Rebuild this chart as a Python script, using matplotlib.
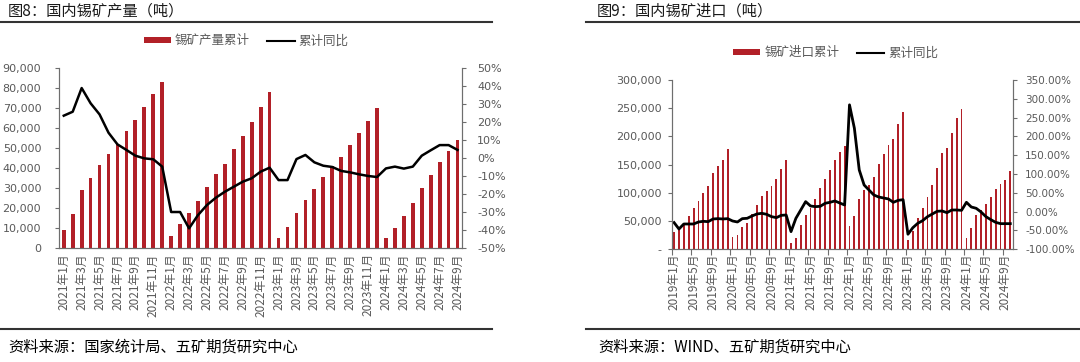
import matplotlib
matplotlib.use('Agg')
import matplotlib.pyplot as plt
from matplotlib.patches import Patch
from matplotlib.lines import Line2D
from matplotlib.ticker import FixedLocator, FuncFormatter

plt.rcParams['font.family'] = ['Noto Sans CJK SC', 'DejaVu Sans']

RED = '#b22028'
GREY = '#595959'
AXC = '#6e6e6e'

# 图8: 国内锡矿产量, 2021-01 .. 2024-09
prod_months = [f'{y}年{m}月' for y in (2021, 2022, 2023, 2024) for m in range(1, 13)][:45]
prod_cum = [8800, 16900, 28800, 35000, 41500, 47200, 51800, 58400, 63900, 70400, 76900, 82900,
            5900, 11700, 17400, 23600, 30300, 37000, 42100, 49300, 56000, 63200, 70700, 78300,
            5000, 10400, 17400, 24100, 29300, 35500, 40800, 45500, 51500, 57400, 63500, 70200,
            5000, 9700, 15900, 22600, 29800, 36500, 43100, 48700, 54000]
prod_yoy = [23.6, 25.8, 39.0, 30.5, 24.3, 14.1, 7.6, 4.5, 1.3, -0.2, -0.7, -4.8,
            -30.1, -30.1, -39.2, -31.8, -26.2, -22.1, -18.8, -16.0, -13.2, -11.3, -7.6, -5.4,
            -12.3, -12.3, -0.6, 1.7, -2.4, -4.3, -5.0, -7.2, -8.0, -9.1, -10.0, -10.6,
            -5.8, -4.8, -5.9, -4.8, 1.3, 4.3, 7.2, 7.2, 4.5]

# 图9: 国内锡矿进口, 2019-01 .. 2024-10
imp_months = [f'{y}年{m}月' for y in range(2019, 2025) for m in range(1, 13)][:70]
imp_cum = [31300, 37000, 47000, 59000, 74000, 86000, 100000, 113000, 135000, 148000, 158000, 178000,
           21800, 24800, 39000, 47000, 62600, 79000, 94400, 103000, 112000, 124600, 141700, 157600,
           10600, 20700, 42500, 60800, 72600, 89000, 108000, 124600, 140000, 158000, 171800, 183000,
           41000, 59000, 89000, 104500, 114000, 128000, 151000, 168000, 185000, 195400, 222000, 244000,
           17000, 32500, 55000, 73800, 92000, 114000, 144600, 171000, 180000, 205400, 232000, 248500,
           20000, 37000, 60800, 69000, 80000, 92500, 107500, 115700, 122500, 138500]
imp_yoy = [-29.0, -46.0, -32.7, -32.7, -32.7, -27.4, -25.6, -26.5, -19.4, -18.5, -19.4, -18.5,
           -24.7, -27.4, -18.5, -17.6, -11.4, -6.1, -4.3, -7.0, -13.2, -15.8, -9.7, -8.8,
           -53.0, -17.6, 4.5, 26.7, 15.2, 13.4, 14.3, 22.3, 24.9, 28.5, 23.1, 17.8,
           284.0, 222.0, 111.0, 71.0, 57.6, 44.4, 39.0, 36.4, 33.8, 24.9, 30.2, 31.9,
           -60.0, -42.6, -31.0, -23.9, -13.4, -6.1, 1.0, 1.9, -2.6, 4.5, 4.5, 3.6,
           24.9, 12.5, 9.0, -0.8, -13.2, -21.2, -28.3, -31.8, -31.8, -31.8]

fig = plt.figure(figsize=(10.8, 3.62), dpi=100)


def style_axes(ax, axr, lpad, rpad):
    for s in ('top',):
        ax.spines[s].set_visible(False)
        axr.spines[s].set_visible(False)
    for s in ('left', 'bottom', 'right'):
        ax.spines[s].set_color(AXC)
        axr.spines[s].set_color(AXC)
    ax.tick_params(axis='y', colors=AXC, labelcolor=GREY, length=3, width=0.8, pad=lpad)
    axr.tick_params(axis='y', colors=AXC, labelcolor=GREY, length=3, width=0.8, pad=rpad)


# ---- left chart ----
ax1 = fig.add_axes([0.0549, 0.3157, 0.3729, 0.4956])
ax1r = ax1.twinx()
x1 = list(range(len(prod_cum)))
ax1.bar(x1, prod_cum, width=0.42, color=RED)
ax1r.plot(x1, prod_yoy, color='black', lw=1.8)
ax1.set_xlim(-0.5, len(x1) - 0.5)
ax1.set_ylim(0, 90000)
ax1r.set_ylim(-50, 50)
ax1.set_yticks(range(0, 90001, 10000))
ax1.yaxis.set_major_formatter(FuncFormatter(lambda v, p: f'{int(v):,}'))
ax1r.set_yticks(range(-50, 51, 10))
ax1r.yaxis.set_major_formatter(FuncFormatter(lambda v, p: f'{int(v)}%'))
style_axes(ax1, ax1r, 10, 8)
for lab in ax1.get_yticklabels() + ax1r.get_yticklabels():
    lab.set_fontfamily('DejaVu Sans')
    lab.set_fontsize(8)
ax1.set_xticks(x1[::2])
ax1.set_xticklabels(prod_months[::2], rotation=90, fontsize=8.5, color=GREY)
ax1.tick_params(axis='x', length=0, pad=4)

# ---- right chart ----
ax2 = fig.add_axes([0.6219, 0.3113, 0.3158, 0.4677])
ax2r = ax2.twinx()
x2 = list(range(len(imp_cum)))
ax2.bar(x2, imp_cum, width=0.38, color=RED)
ax2r.plot(x2, imp_yoy, color='black', lw=2.0)
ax2.set_xlim(-0.5, len(x2) - 0.5)
ax2.set_ylim(0, 300000)
ax2r.set_ylim(-100, 350)
ax2.set_yticks(range(0, 300001, 50000))
ax2.yaxis.set_major_formatter(FuncFormatter(lambda v, p: '-' if v == 0 else f'{int(v):,}'))
ax2r.set_yticks(range(-100, 351, 50))
ax2r.yaxis.set_major_formatter(FuncFormatter(lambda v, p: f'{v:.2f}%'))
style_axes(ax2, ax2r, 4, 6)
for lab in ax2.get_yticklabels():
    lab.set_fontfamily('DejaVu Sans')
    lab.set_fontsize(8)
for lab in ax2r.get_yticklabels():
    lab.set_fontfamily('DejaVu Sans')
    lab.set_fontsize(7.5)
ax2.xaxis.set_major_locator(FixedLocator([i - 0.5 for i in x2[::4]]))
ax2.xaxis.set_major_formatter(FuncFormatter(lambda v, p: ''))
ax2.xaxis.set_minor_locator(FixedLocator(x2[::4]))
ax2.set_xticklabels(imp_months[::4], minor=True, rotation=90, fontsize=8.5, color=GREY)
ax2.tick_params(axis='x', which='major', length=4, color=AXC)
ax2.tick_params(axis='x', which='minor', length=0, pad=3)

# ---- titles, separators, legends, sources ----
fig.text(0.0074, 0.9696, '图8：国内锡矿产量（吨）', fontsize=11, va='center', ha='left', color='#1a1a1a')
fig.text(0.5528, 0.9696, '图9：国内锡矿进口（吨）', fontsize=11, va='center', ha='left', color='#1a1a1a')
for x0, x1_ in ((0.0, 0.4556), (0.5426, 1.0)):
    fig.add_artist(Line2D([x0, x1_], [0.9384, 0.9384], color='#333333', lw=1.5))
    fig.add_artist(Line2D([x0, x1_], [0.0898, 0.0898], color='#333333', lw=1.5))
fig.text(0.0074, 0.0414, '资料来源：国家统计局、五矿期货研究中心', fontsize=11, va='center', ha='left')
fig.text(0.5537, 0.0414, '资料来源：WIND、五矿期货研究中心', fontsize=11, va='center', ha='left')

leg_kw = dict(loc='center', ncol=2, frameon=False, fontsize=9, handlelength=2.2,
              handleheight=0.4, columnspacing=1.4, handletextpad=0.3, labelcolor=GREY)
fig.legend([Patch(facecolor=RED), Line2D([], [], color='black', lw=1.5)],
           ['锡矿产量累计', '累计同比'], bbox_to_anchor=(0.228, 0.887), **leg_kw)
fig.legend([Patch(facecolor=RED), Line2D([], [], color='black', lw=1.5)],
           ['锡矿进口累计', '累计同比'], bbox_to_anchor=(0.7736, 0.854), **leg_kw)

fig.savefig('out.png', dpi=100)
